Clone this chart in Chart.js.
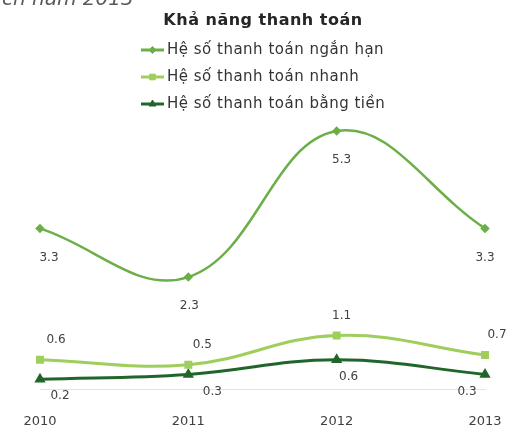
<!DOCTYPE html>
<html>
<head>
<meta charset="utf-8">
<script src="https://cdn.jsdelivr.net/npm/chart.js@4.4.1/dist/chart.umd.min.js"></script>
<style>
  html, body { margin: 0; padding: 0; background: #ffffff; overflow: hidden; }
  #wrap { position: relative; width: 510px; height: 432px; }
  #caption {
    position: absolute; left: -68px; top: -13px;
    font: italic 20px "DejaVu Sans", sans-serif; color: #595959;
    white-space: nowrap; line-height: 22px;
  }
  canvas { position: absolute; left: 0; top: 0; }
</style>
</head>
<body>
<div id="wrap">
  <canvas id="c" width="510" height="432"></canvas>
  <div id="caption">phân tích năm 2013</div>
</div>
<script>
// Years on the category axis
const categories = ['2010', '2011', '2012', '2013'];

// Liquidity ratios per year
const shortTermRatio = [3.3, 2.3, 5.3, 3.3];
const quickRatio = [0.6, 0.5, 1.1, 0.7];
const cashRatio = [0.2, 0.3, 0.6, 0.3];

const seriesNames = [
  'Hệ số thanh toán ngắn hạn',
  'Hệ số thanh toán nhanh',
  'Hệ số thanh toán bằng tiền'
];
const chartTitle = 'Khả năng thanh toán';

// Per-dataset label placement (pixels relative to the point)
const labelOffsets = [
  { dx: [9, 1, 5, 0], dy: 29 },
  { dx: [16, 14, 5, 12], dy: -20 },
  { dx: [20, 24, 12, -18], dy: 17 }
];

const FONT = '"DejaVu Sans", sans-serif';

// Title and stacked legend drawn in the top band
const legendBlock = {
  id: 'legendBlock',
  afterDraw(chart) {
    const ctx = chart.ctx;
    ctx.save();
    ctx.fillStyle = '#262626';
    ctx.font = 'bold 16px ' + FONT;
    ctx.letterSpacing = '0.5px';
    ctx.textAlign = 'center';
    ctx.textBaseline = 'middle';
    ctx.fillText(chartTitle, 263, 21);

    const rows = [50, 77, 104];
    chart.data.datasets.forEach((ds, i) => {
      const y = rows[i];
      ctx.strokeStyle = ds.borderColor;
      ctx.lineWidth = 3;
      ctx.beginPath();
      ctx.moveTo(141, y);
      ctx.lineTo(164, y);
      ctx.stroke();
      ctx.fillStyle = ds.pointBackgroundColor;
      ctx.strokeStyle = ds.pointBorderColor;
      ctx.lineWidth = 1;
      Chart.helpers.drawPoint(ctx, {
        pointStyle: ds.pointStyle,
        radius: ds.pointRadius + 0.5,
        borderWidth: 1,
        rotation: 0
      }, 152.5, y);
      ctx.fillStyle = '#333333';
      ctx.font = '15px ' + FONT;
      ctx.letterSpacing = '0.5px';
      ctx.textAlign = 'left';
      ctx.fillText(ds.label, 167, y);
    });
    ctx.restore();
  }
};

// Value labels beside each point
const valueLabels = {
  id: 'valueLabels',
  afterDatasetsDraw(chart) {
    const ctx = chart.ctx;
    ctx.save();
    ctx.font = '12px ' + FONT;
    ctx.fillStyle = '#404040';
    ctx.textAlign = 'center';
    ctx.textBaseline = 'middle';
    chart.data.datasets.forEach((ds, i) => {
      const meta = chart.getDatasetMeta(i);
      const off = labelOffsets[i];
      meta.data.forEach((pt, j) => {
        ctx.fillText(ds.data[j].toFixed(1), pt.x + off.dx[j], pt.y + off.dy);
      });
    });
    ctx.restore();
  }
};

function series(label, data, color, style, radius, width) {
  return {
    label: label,
    data: data,
    borderColor: color,
    backgroundColor: color,
    pointBackgroundColor: color,
    pointBorderColor: color,
    pointStyle: style,
    pointRadius: radius,
    pointHoverRadius: radius,
    borderWidth: width,
    tension: 0.4,
    fill: false,
    clip: false
  };
}

new Chart(document.getElementById('c'), {
  type: 'line',
  data: {
    labels: categories,
    datasets: [
      series(seriesNames[0], shortTermRatio, '#6cae48', 'rectRot', 3, 2.5),
      series(seriesNames[1], quickRatio, '#9fce5c', 'rect', 3.5, 3),
      series(seriesNames[2], cashRatio, '#20662a', 'triangle', 3.5, 3)
    ]
  },
  options: {
    responsive: false,
    animation: false,
    events: [],
    layout: { padding: { left: 40, right: 25, top: 97, bottom: 3 } },
    plugins: {
      legend: { display: false },
      title: { display: false },
      tooltip: { enabled: false }
    },
    scales: {
      x: {
        offset: false,
        grid: { display: false, drawTicks: false },
        border: { display: true, color: '#e3e3e3', width: 1 },
        ticks: {
          padding: 25,
          color: '#404040',
          font: { family: FONT, size: 13 },
          maxRotation: 0
        },
        afterFit(scale) {
          scale.height = 40;
          scale.paddingLeft = 0;
          scale.paddingRight = 0;
        }
      },
      y: {
        display: false,
        min: 0,
        max: 6
      }
    }
  },
  plugins: [valueLabels, legendBlock]
});
</script>
</body>
</html>
